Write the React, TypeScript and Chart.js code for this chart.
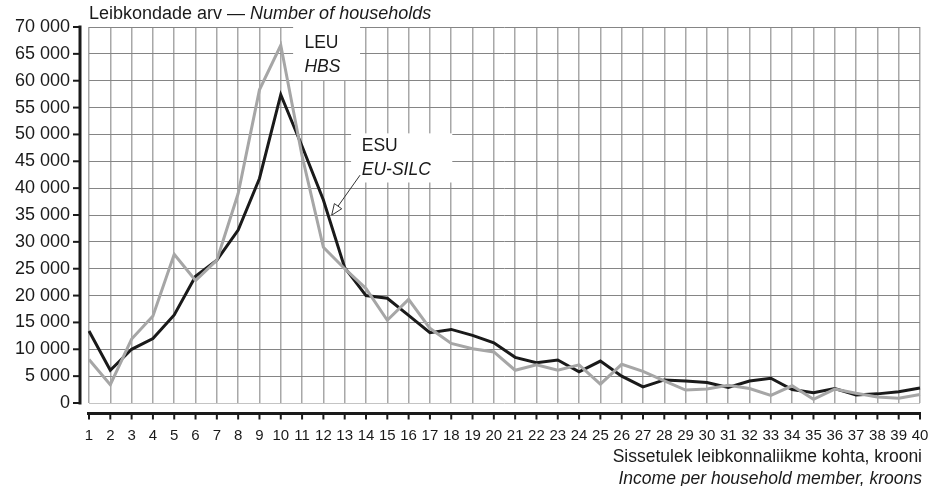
import React, { useEffect, useRef } from "react";
import { Chart, registerables } from "chart.js";

Chart.register(...registerables);

const incomeClasses = [
  "1", "2", "3", "4", "5", "6", "7", "8", "9", "10",
  "11", "12", "13", "14", "15", "16", "17", "18", "19", "20",
  "21", "22", "23", "24", "25", "26", "27", "28", "29", "30",
  "31", "32", "33", "34", "35", "36", "37", "38", "39", "40",
];

// LEU / HBS (grey)
const hbsHouseholds = [
  8100, 3400, 11900, 16200, 27700, 22800, 26600, 39000, 58300, 66600,
  46000, 29000, 25000, 21300, 15400, 19300, 13900, 11100, 10100, 9500,
  6100, 7100, 6100, 7100, 3500, 7200, 5900, 4100, 2400, 2600,
  3300, 2700, 1400, 3200, 700, 2600, 1800, 1100, 900, 1600,
];

// ESU / EU-SILC (black)
const silcHouseholds = [
  13400, 6100, 10000, 12000, 16400, 23600, 26600, 32200, 41800, 57400,
  47800, 37800, 25200, 20000, 19500, 16300, 13100, 13700, 12600, 11200,
  8500, 7500, 8000, 5800, 7800, 5000, 3000, 4300, 4100, 3800,
  2900, 4100, 4600, 2500, 1900, 2700, 1500, 1700, 2100, 2800,
];

const titleEt = "Leibkondade arv — ";
const titleEn = "Number of households";
const xTitleEt = "Sissetulek leibkonnaliikme kohta, krooni";
const xTitleEn = "Income per household member, kroons";
const leuLabel = ["LEU", "HBS"];
const esuLabel = ["ESU", "EU-SILC"];

const FONT = '"Liberation Sans", Arial, sans-serif';

function fmt(v: number): string {
  const s = String(Math.round(v));
  return s.replace(/\B(?=(\d{3})+(?!\d))/g, " ");
}

const decorPlugin = {
  id: "decor",
  beforeDatasetsDraw(chart: any) {
    const { ctx, scales } = chart;
    const x = scales.x;
    const y = scales.y;
    ctx.save();
    ctx.fillStyle = "#ffffff";
    // LEU box
    const l0 = x.getPixelForValue(9.58);
    const l1 = x.getPixelForValue(12.72);
    const lt = y.getPixelForValue(70000);
    const lb = y.getPixelForValue(60100);
    ctx.fillRect(l0, lt - 1, l1 - l0, lb - lt + 1);
    // ESU box
    const e0 = x.getPixelForValue(12.3);
    const e1 = x.getPixelForValue(17.05);
    const et = y.getPixelForValue(50200);
    const eb = y.getPixelForValue(41050);
    ctx.fillRect(e0, et, e1 - e0, eb - et);
    ctx.restore();
  },
  afterDraw(chart: any) {
    const { ctx, scales, chartArea } = chart;
    const x = scales.x;
    const y = scales.y;
    ctx.save();
    ctx.fillStyle = "#1a1a1a";
    ctx.strokeStyle = "#1a1a1a";

    // Y axis black line + ticks
    const ax = chartArea.left - 9;
    ctx.lineWidth = 3;
    ctx.beginPath();
    ctx.moveTo(ax, y.getPixelForValue(70000) - 1.5);
    ctx.lineTo(ax, y.getPixelForValue(0) + 1.5);
    ctx.stroke();
    ctx.lineWidth = 2;
    for (const t of y.ticks) {
      const py = y.getPixelForValue(t.value);
      ctx.beginPath();
      ctx.moveTo(ax - 7, py);
      ctx.lineTo(ax, py);
      ctx.stroke();
    }

    // X axis black line + ticks
    const ay = chartArea.bottom + 10.5;
    ctx.lineWidth = 3;
    ctx.beginPath();
    ctx.moveTo(chartArea.left - 2, ay);
    ctx.lineTo(chartArea.right + 1, ay);
    ctx.stroke();
    ctx.lineWidth = 2;
    for (let i = 0; i < incomeClasses.length; i++) {
      const px = x.getPixelForValue(i);
      ctx.beginPath();
      ctx.moveTo(px, ay);
      ctx.lineTo(px, ay + 6);
      ctx.stroke();
    }

    // Title
    ctx.textBaseline = "alphabetic";
    ctx.textAlign = "left";
    ctx.font = `18px ${FONT}`;
    const tx = chartArea.left;
    ctx.fillText(titleEt, tx, 19);
    const w = ctx.measureText(titleEt).width;
    ctx.font = `italic 18px ${FONT}`;
    ctx.fillText(titleEn, tx + w, 19);

    // X axis titles
    ctx.textAlign = "right";
    ctx.font = `17.5px ${FONT}`;
    ctx.fillText(xTitleEt, chartArea.right + 2, 462);
    ctx.font = `italic 17.5px ${FONT}`;
    ctx.fillText(xTitleEn, chartArea.right + 2, 483.5);

    // Annotation labels
    ctx.textAlign = "left";
    ctx.font = `17.5px ${FONT}`;
    ctx.fillText(leuLabel[0], x.getPixelForValue(10.11), y.getPixelForValue(66020));
    ctx.font = `italic 17.5px ${FONT}`;
    ctx.fillText(leuLabel[1], x.getPixelForValue(10.11), y.getPixelForValue(61660));
    ctx.font = `17.5px ${FONT}`;
    ctx.fillText(esuLabel[0], x.getPixelForValue(12.8), y.getPixelForValue(46940));
    ctx.font = `italic 17.5px ${FONT}`;
    ctx.fillText(esuLabel[1], x.getPixelForValue(12.8), y.getPixelForValue(42420));

    // Arrow
    const sx = x.getPixelForValue(12.72);
    const sy = y.getPixelForValue(42420);
    const ex = x.getPixelForValue(11.39);
    const ey = y.getPixelForValue(34970);
    const ang = Math.atan2(ey - sy, ex - sx);
    const hl = 11;
    const hw = 4.5;
    const bx = ex - hl * Math.cos(ang);
    const by = ey - hl * Math.sin(ang);
    ctx.lineWidth = 1;
    ctx.strokeStyle = "#333";
    ctx.beginPath();
    ctx.moveTo(sx, sy);
    ctx.lineTo(bx, by);
    ctx.stroke();
    ctx.beginPath();
    ctx.moveTo(ex, ey);
    ctx.lineTo(bx + hw * Math.sin(ang), by - hw * Math.cos(ang));
    ctx.lineTo(bx - hw * Math.sin(ang), by + hw * Math.cos(ang));
    ctx.closePath();
    ctx.fillStyle = "#ffffff";
    ctx.fill();
    ctx.stroke();

    ctx.restore();
  },
};

export default function App() {
  const canvasRef = useRef<HTMLCanvasElement | null>(null);

  useEffect(() => {
    const canvas = canvasRef.current;
    if (!canvas) return;
    const chart = new Chart(canvas, {
      type: "line",
      data: {
        labels: incomeClasses,
        datasets: [
          {
            label: "LEU / HBS",
            data: hbsHouseholds,
            borderColor: "#a6a6a6",
            backgroundColor: "#a6a6a6",
            borderWidth: 3,
            pointRadius: 0,
            tension: 0,
          },
          {
            label: "ESU / EU-SILC",
            data: silcHouseholds,
            borderColor: "#1a1a1a",
            backgroundColor: "#1a1a1a",
            borderWidth: 3,
            pointRadius: 0,
            tension: 0,
          },
        ],
      },
      options: {
        responsive: false,
        animation: false,
        layout: { padding: { top: 27, right: 13, left: 0, bottom: 0 } },
        plugins: {
          legend: { display: false },
          tooltip: { enabled: false },
          title: { display: false },
        },
        scales: {
          x: {
            type: "category",
            offset: false,
            afterFit: (s: any) => {
              s.height = 83;
              s.paddingLeft = 0;
              s.paddingRight = 0;
            },
            grid: {
              color: "#a8a8a8",
              lineWidth: 1.5,
              drawTicks: false,
              offset: false,
            },
            border: { display: false },
            ticks: {
              autoSkip: false,
              maxRotation: 0,
              minRotation: 0,
              padding: 24,
              color: "#1a1a1a",
              font: { family: FONT, size: 15 },
            },
          },
          y: {
            min: 0,
            max: 70000,
            afterFit: (s: any) => {
              s.width = 89;
              s.paddingTop = 0;
              s.paddingBottom = 0;
            },
            grid: {
              color: (c: any) => (c.tick && c.tick.value === 0 ? "#c4c4c4" : "#858585"),
              lineWidth: 1,
              drawTicks: false,
            },
            border: { display: false },
            ticks: {
              stepSize: 5000,
              padding: 19,
              color: "#1a1a1a",
              font: { family: FONT, size: 18 },
              callback: (v: any) => fmt(Number(v)),
            },
          },
        },
      },
      plugins: [decorPlugin],
    });
    return () => chart.destroy();
  }, []);

  return (
    <div style={{ position: "fixed", left: 0, top: 0, width: 933, height: 486, background: "#fff" }}>
      <canvas ref={canvasRef} width={933} height={486} style={{ display: "block" }} />
    </div>
  );
}
